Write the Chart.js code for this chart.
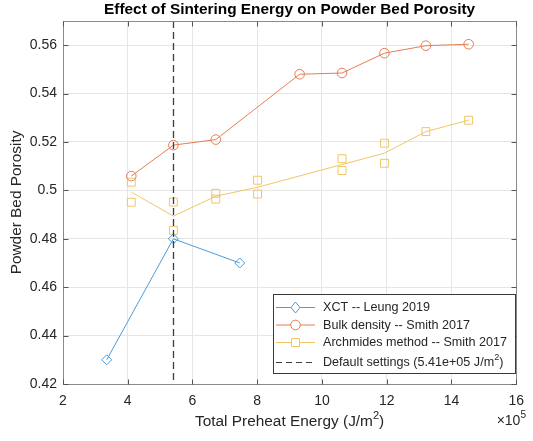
<!DOCTYPE html>
<html>
<head>
<meta charset="utf-8">
<script src="https://cdn.jsdelivr.net/npm/chart.js@4.4.0/dist/chart.umd.min.js"></script>
<style>
  html, body { margin: 0; padding: 0; background: #fff; }
</style>
</head>
<body>
<canvas id="chart" width="533" height="441"></canvas>
<script>
// energies are in units of 1e5 J/m^2
const xctEnergy = [3.35, 5.41, 7.46];
const xctPorosity = [0.430, 0.480, 0.470];

const bulkEnergy = [4.11, 5.41, 6.72, 9.31, 10.62, 11.93, 13.21, 14.53];
const bulkPorosity = [0.5059, 0.5187, 0.5210, 0.5480, 0.5485, 0.5567, 0.5598, 0.5604];

// Archimedes: individual samples plus the mean line through them
const archEnergy = [4.11, 4.11, 5.41, 5.41, 6.72, 6.72, 8.01, 8.01, 10.62, 10.62, 11.93, 11.93, 13.21, 14.53];
const archPorosity = [0.5034, 0.4951, 0.4952, 0.4835, 0.4988, 0.4964, 0.5042, 0.4985, 0.5131, 0.5082, 0.5195, 0.5112, 0.5243, 0.5290];
const archMeanEnergy = [4.11, 5.41, 6.72, 8.01, 10.62, 11.93, 13.21, 14.53];
const archMeanPorosity = [0.4993, 0.4894, 0.4976, 0.5013, 0.5107, 0.5154, 0.5243, 0.5290];

const defaultEnergy = 5.41;

const xTicks = [2, 4, 6, 8, 10, 12, 14, 16];
const yTicks = [0.42, 0.44, 0.46, 0.48, 0.50, 0.52, 0.54, 0.56];

const BLUE = '#4c9bd8';
const ORANGE = '#e47d55';
const YELLOW = '#f0c665';
const FONT = '"Liberation Sans", Arial, sans-serif';

function pts(xs, ys) {
    return xs.map((x, i) => ({ x: x, y: ys[i] }));
}

function marker(ctx, style, x, y, color) {
    ctx.save();
    ctx.strokeStyle = color;
    ctx.lineWidth = 1;
    ctx.beginPath();
    if (style === 'diamond') {
        ctx.moveTo(x, y - 5.5); ctx.lineTo(x + 4.5, y); ctx.lineTo(x, y + 5.5); ctx.lineTo(x - 4.5, y); ctx.closePath();
    } else if (style === 'circle') {
        ctx.arc(x, y, 4.8, 0, Math.PI * 2);
    } else if (style === 'square') {
        ctx.rect(x - 4, y - 4, 8, 8);
    }
    ctx.fillStyle = '#fff';
    ctx.fill();
    ctx.stroke();
    ctx.restore();
}

function supText(ctx, parts, x, y, size, align) {
    // parts: [text, isSuperscript]
    let total = 0;
    const widths = parts.map(p => {
        ctx.font = (p[1] ? size * 0.72 : size) + 'px ' + FONT;
        const w = ctx.measureText(p[0]).width;
        total += w;
        return w;
    });
    let cx = align === 'center' ? x - total / 2 : (align === 'right' ? x - total : x);
    ctx.textAlign = 'left';
    parts.forEach((p, i) => {
        ctx.font = (p[1] ? size * 0.72 : size) + 'px ' + FONT;
        ctx.fillText(p[0], cx, p[1] ? y - size * 0.45 : y);
        cx += widths[i];
    });
}

const framePlugin = {
    id: 'frame',
    afterDatasetsDraw(chart) {
        const ctx = chart.ctx;
        const a = chart.chartArea;
        const xs = chart.scales.x;

        // dashed default-settings line
        ctx.save();
        ctx.strokeStyle = '#3c3c3c';
        ctx.lineWidth = 1.3;
        ctx.setLineDash([7, 4]);
        const dx = Math.round(xs.getPixelForValue(defaultEnergy)) + 0.5;
        ctx.beginPath();
        ctx.moveTo(dx, a.top);
        ctx.lineTo(dx, a.bottom);
        ctx.stroke();
        ctx.restore();
    },
    afterDraw(chart) {
        const ctx = chart.ctx;
        const a = chart.chartArea;
        const xs = chart.scales.x, ys = chart.scales.y;
        const L = Math.round(a.left) + 0.5, R = Math.round(a.right) + 0.5;
        const T = Math.round(a.top) + 0.5, B = Math.round(a.bottom) + 0.5;

        ctx.save();
        // axes box
        ctx.strokeStyle = '#8a8a8a';
        ctx.lineWidth = 1;
        ctx.strokeRect(L, T, R - L, B - T);

        // inward ticks on all four sides
        ctx.strokeStyle = '#555';
        ctx.beginPath();
        xTicks.forEach(v => {
            const px = Math.round(xs.getPixelForValue(v)) + 0.5;
            ctx.moveTo(px, B); ctx.lineTo(px, B - 5);
            ctx.moveTo(px, T); ctx.lineTo(px, T + 5);
        });
        yTicks.forEach(v => {
            const py = Math.round(ys.getPixelForValue(v)) + 0.5;
            ctx.moveTo(L, py); ctx.lineTo(L + 5, py);
            ctx.moveTo(R, py); ctx.lineTo(R - 5, py);
        });
        ctx.stroke();

        // title
        ctx.fillStyle = '#000';
        ctx.font = 'bold 15.4px ' + FONT;
        ctx.textAlign = 'center';
        ctx.textBaseline = 'middle';
        ctx.fillText('Effect of Sintering Energy on Powder Bed Porosity', (a.left + a.right) / 2, 10);

        // axis labels
        ctx.fillStyle = '#262626';
        ctx.textBaseline = 'alphabetic';
        supText(ctx, [['Total Preheat Energy (J/m', false], ['2', true], [')', false]], (a.left + a.right) / 2, 425.5, 15.4, 'center');
        supText(ctx, [['\u00d710', false], ['5', true]], 526, 424.5, 14, 'right');

        ctx.save();
        ctx.translate(21, (a.top + a.bottom) / 2);
        ctx.rotate(-Math.PI / 2);
        ctx.font = '15.4px ' + FONT;
        ctx.textAlign = 'center';
        ctx.fillText('Powder Bed Porosity', 0, 0);
        ctx.restore();

        // legend
        const bx = 273.5, by = 294.5, bw = 242, bh = 79;
        ctx.fillStyle = '#fff';
        ctx.fillRect(bx, by, bw, bh);
        ctx.strokeStyle = '#3a3a3a';
        ctx.lineWidth = 1;
        ctx.strokeRect(bx, by, bw, bh);

        const rows = [
            { y: 307.5, color: BLUE, style: 'diamond', text: [['XCT -- Leung 2019', false]] },
            { y: 325, color: ORANGE, style: 'circle', text: [['Bulk density -- Smith 2017', false]] },
            { y: 342.5, color: YELLOW, style: 'square', text: [['Archmides method -- Smith 2017', false]] },
            { y: 362.5, color: '#3c3c3c', style: 'dash', text: [['Default settings (5.41e+05 J/m', false], ['2', true], [')', false]] }
        ];
        rows.forEach(r => {
            ctx.save();
            ctx.strokeStyle = r.color;
            ctx.lineWidth = r.style === 'dash' ? 1.2 : 1;
            if (r.style === 'dash') ctx.setLineDash([6, 4]);
            ctx.beginPath();
            ctx.moveTo(276, r.y);
            ctx.lineTo(315, r.y);
            ctx.stroke();
            ctx.restore();
            if (r.style !== 'dash') marker(ctx, r.style, 295.5, r.y, r.color);
            ctx.fillStyle = '#262626';
            ctx.textBaseline = 'middle';
            supText(ctx, r.text, 323, r.y + 0.5, 12.6, 'left');
        });
        ctx.restore();
    }
};

new Chart(document.getElementById('chart'), {
    type: 'scatter',
    data: {
        datasets: [
            {
                label: 'XCT -- Leung 2019',
                data: pts(xctEnergy, xctPorosity),
                showLine: true,
                borderColor: BLUE,
                backgroundColor: 'rgba(0,0,0,0)',
                borderWidth: 1,
                pointStyle: 'rectRot',
                pointRadius: 5,
                pointBorderWidth: 1
            },
            {
                label: 'Bulk density -- Smith 2017',
                data: pts(bulkEnergy, bulkPorosity),
                showLine: true,
                borderColor: ORANGE,
                backgroundColor: 'rgba(0,0,0,0)',
                borderWidth: 1,
                pointStyle: 'circle',
                pointRadius: 4.8,
                pointBorderWidth: 1
            },
            {
                label: 'Archmides method -- Smith 2017',
                data: pts(archMeanEnergy, archMeanPorosity),
                showLine: true,
                borderColor: YELLOW,
                borderWidth: 1,
                pointRadius: 0
            },
            {
                label: 'Archmides samples',
                data: pts(archEnergy, archPorosity),
                showLine: false,
                borderColor: YELLOW,
                backgroundColor: 'rgba(0,0,0,0)',
                pointStyle: 'rect',
                pointRadius: 5.6,
                pointBorderWidth: 1
            }
        ]
    },
    options: {
        responsive: false,
        animation: false,
        layout: { padding: { top: 21, right: 8, left: 0, bottom: 0 } },
        plugins: {
            legend: { display: false },
            tooltip: { enabled: false },
            title: { display: false }
        },
        scales: {
            x: {
                type: 'linear',
                min: 2,
                max: 16,
                afterFit: s => { s.height = 57; },
                afterBuildTicks: s => { s.ticks = xTicks.map(v => ({ value: v })); },
                grid: { color: '#e6e6e6', drawTicks: false },
                border: { display: false },
                ticks: {
                    padding: 9,
                    color: '#262626',
                    font: { family: FONT, size: 14 },
                    maxRotation: 0,
                    callback: v => String(v)
                }
            },
            y: {
                type: 'linear',
                min: 0.42,
                max: 0.57,
                afterFit: s => { s.width = 63; },
                afterBuildTicks: s => { s.ticks = yTicks.map(v => ({ value: v })); },
                grid: { color: '#e6e6e6', drawTicks: false },
                border: { display: false },
                ticks: {
                    padding: 6,
                    color: '#262626',
                    font: { family: FONT, size: 14 },
                    callback: v => String(+v.toFixed(2))
                }
            }
        }
    },
    plugins: [framePlugin]
});
</script>
</body>
</html>
